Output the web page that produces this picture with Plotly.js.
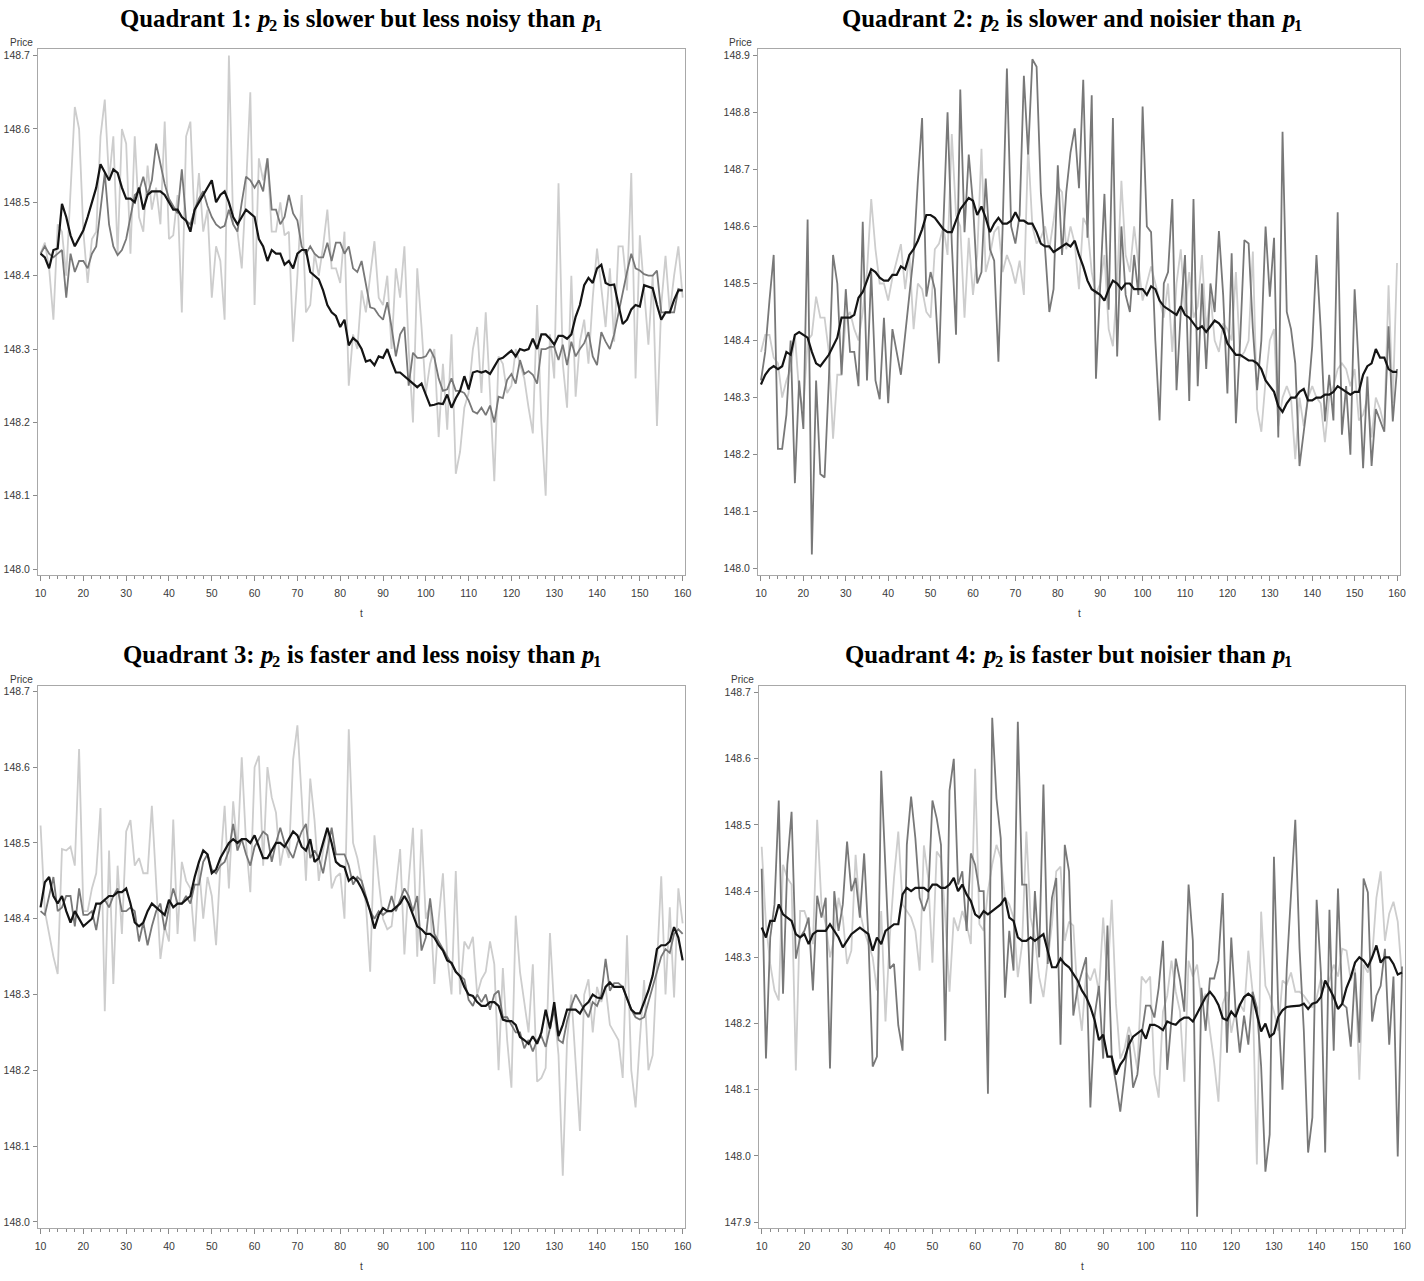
<!DOCTYPE html>
<html>
<head>
<meta charset="utf-8">
<script src="https://cdn.plot.ly/plotly-3.0.1.min.js"></script>
<style>
html,body{margin:0;padding:0;background:#ffffff;}
#chart{width:1424px;height:1281px;}
</style>
</head>
<body>
<div id="chart"></div>
<script>
// t axis (time index)
const t = [10,11,12,13,14,15,16,17,18,19,20,21,22,23,24,25,26,27,28,29,30,31,32,33,34,35,36,37,38,39,
40,41,42,43,44,45,46,47,48,49,50,51,52,53,54,55,56,57,58,59,60,61,62,63,64,65,66,67,68,69,
70,71,72,73,74,75,76,77,78,79,80,81,82,83,84,85,86,87,88,89,90,91,92,93,94,95,96,97,98,99,
100,101,102,103,104,105,106,107,108,109,110,111,112,113,114,115,116,117,118,119,
120,121,122,123,124,125,126,127,128,129,130,131,132,133,134,135,136,137,138,139,
140,141,142,143,144,145,146,147,148,149,150,151,152,153,154,155,156,157,158,159,160];

// Quadrant 1
const q1_m = [148.43,148.425,148.41,148.435,148.437,148.498,148.48,148.455,148.44,148.45,
148.462,148.48,148.5,148.52,148.552,148.54,148.53,148.545,148.54,148.52,
148.505,148.505,148.5,148.52,148.49,148.51,148.515,148.515,148.515,148.51,
148.5,148.49,148.49,148.48,148.475,148.46,148.49,148.5,148.51,148.52,
148.53,148.5,148.51,148.515,148.5,148.48,148.47,148.48,148.49,148.485,
148.48,148.45,148.44,148.42,148.435,148.43,148.43,148.415,148.42,148.41,
148.43,148.435,148.435,148.405,148.4,148.395,148.38,148.36,148.35,148.345,
148.33,148.34,148.305,148.315,148.31,148.3,148.283,148.285,148.278,148.29,
148.288,148.3,148.283,148.268,148.268,148.263,148.258,148.253,148.248,148.253,
148.238,148.223,148.224,148.226,148.225,148.238,148.22,148.233,148.243,148.263,
148.245,148.268,148.27,148.268,148.27,148.266,148.276,148.286,148.288,148.293,
148.298,148.29,148.3,148.298,148.3,148.314,148.3,148.32,148.32,148.314,
148.306,148.318,148.318,148.314,148.32,148.344,148.36,148.387,148.397,148.39,
148.41,148.415,148.39,148.387,148.388,148.36,148.334,148.34,148.354,148.36,
148.358,148.387,148.385,148.383,148.36,148.34,148.35,148.35,148.367,148.38,
148.38];
const q1_p2 = [148.43,148.44,148.43,148.425,148.43,148.435,148.37,148.43,148.405,148.42,
148.42,148.41,148.43,148.44,148.49,148.54,148.47,148.44,148.428,148.435,
148.45,148.48,148.51,148.515,148.535,148.51,148.53,148.58,148.55,148.525,
148.505,148.495,148.485,148.545,148.475,148.47,148.49,148.505,148.515,148.495,
148.48,148.47,148.465,148.468,148.49,148.47,148.46,148.5,148.535,148.53,
148.52,148.53,148.515,148.56,148.49,148.49,148.47,148.48,148.51,148.485,
148.475,148.44,148.43,148.44,148.43,148.425,148.425,148.445,148.42,148.445,
148.445,148.43,148.44,148.41,148.405,148.42,148.387,148.357,148.355,148.346,
148.34,148.364,148.33,148.29,148.32,148.33,148.25,148.295,148.288,148.288,
148.29,148.3,148.288,148.26,148.243,148.245,148.26,148.243,148.243,148.24,
148.23,148.215,148.212,148.22,148.21,148.223,148.2,148.235,148.233,148.258,
148.266,148.253,148.285,148.266,148.27,148.265,148.253,148.3,148.3,148.303,
148.303,148.285,148.306,148.278,148.31,148.29,148.3,148.308,148.323,148.29,
148.278,148.323,148.31,148.3,148.32,148.35,148.38,148.405,148.43,148.41,
148.407,148.402,148.4,148.4,148.407,148.35,148.35,148.35,148.35,148.382,
148.38];
const q1_p1 = [148.43,148.445,148.41,148.34,148.47,148.46,148.40,148.52,148.63,148.6,
148.46,148.39,148.45,148.46,148.59,148.64,148.53,148.59,148.43,148.6,
148.58,148.43,148.59,148.48,148.46,148.55,148.49,148.52,148.47,148.61,
148.45,148.455,148.51,148.35,148.59,148.61,148.47,148.54,148.46,148.49,
148.37,148.44,148.42,148.34,148.7,148.47,148.46,148.41,148.52,148.65,
148.36,148.56,148.53,148.56,148.46,148.46,148.5,148.455,148.46,148.31,
148.4,148.51,148.35,148.36,148.43,148.4,148.44,148.49,148.41,148.41,
148.39,148.46,148.25,148.32,148.3,148.38,148.35,148.4,148.447,148.37,
148.36,148.4,148.3,148.41,148.37,148.44,148.3,148.2,148.41,148.33,
148.24,148.28,148.3,148.18,148.28,148.19,148.32,148.13,148.16,148.22,
148.24,148.3,148.33,148.24,148.35,148.24,148.12,148.29,148.28,148.24,
148.25,148.3,148.28,148.26,148.22,148.185,148.36,148.2,148.1,148.32,
148.26,148.526,148.28,148.22,148.4,148.235,148.31,148.34,148.28,148.37,
148.437,148.38,148.33,148.41,148.31,148.44,148.44,148.38,148.54,148.26,
148.455,148.38,148.306,148.4,148.195,148.36,148.427,148.35,148.4,148.44,
148.37];

// Quadrant 2
const q2_m = [148.323,148.34,148.35,148.355,148.35,148.355,148.38,148.375,148.41,148.415,
148.41,148.405,148.38,148.36,148.355,148.365,148.375,148.39,148.405,148.44,
148.44,148.44,148.445,148.475,148.485,148.505,148.525,148.52,148.51,148.505,
148.505,148.515,148.515,148.53,148.525,148.55,148.56,148.575,148.595,148.62,
148.62,148.615,148.605,148.595,148.59,148.59,148.61,148.63,148.64,148.65,
148.645,148.62,148.635,148.615,148.59,148.605,148.615,148.605,148.605,148.61,
148.625,148.61,148.61,148.605,148.605,148.59,148.57,148.565,148.565,148.555,
148.56,148.565,148.57,148.565,148.575,148.55,148.53,148.505,148.49,148.485,
148.48,148.47,148.49,148.505,148.5,148.49,148.5,148.5,148.49,148.49,
148.49,148.48,148.495,148.49,148.47,148.46,148.455,148.45,148.445,148.46,
148.445,148.44,148.43,148.42,148.425,148.415,148.425,148.435,148.43,148.42,
148.395,148.385,148.375,148.375,148.37,148.365,148.365,148.36,148.35,148.33,
148.32,148.31,148.285,148.275,148.29,148.3,148.3,148.31,148.315,148.295,
148.295,148.3,148.3,148.305,148.305,148.31,148.32,148.315,148.31,148.305,
148.31,148.31,148.34,148.355,148.36,148.385,148.37,148.37,148.35,148.345,
148.345];
const q2_p2 = [148.33,148.38,148.47,148.55,148.21,148.21,148.27,148.4,148.15,148.33,
148.245,148.612,148.025,148.33,148.166,148.16,148.33,148.55,148.5,148.34,
148.49,148.38,148.38,148.32,148.608,148.33,148.52,148.33,148.297,148.44,
148.29,148.42,148.38,148.34,148.41,148.48,148.55,148.68,148.79,148.477,
148.52,148.49,148.36,148.6,148.8,148.57,148.41,148.84,148.59,148.726,
148.64,148.5,148.52,148.684,148.56,148.54,148.363,148.6,148.877,148.6,
148.57,148.62,148.864,148.726,148.893,148.88,148.66,148.56,148.45,148.49,
148.707,148.55,148.66,148.73,148.772,148.667,148.857,148.58,148.83,148.333,
148.5,148.657,148.454,148.79,148.372,148.6,148.48,148.45,148.55,148.48,
148.81,148.6,148.59,148.4,148.26,148.5,148.52,148.648,148.313,148.45,
148.55,148.294,148.648,148.32,148.5,148.35,148.5,148.45,148.592,148.48,
148.307,148.553,148.255,148.4,148.576,148.57,148.42,148.313,148.4,148.6,
148.477,148.58,148.23,148.766,148.45,148.42,148.36,148.18,148.24,148.3,
148.39,148.55,148.42,148.258,148.34,148.26,148.625,148.235,148.32,148.2,
148.49,148.35,148.176,148.337,148.18,148.28,148.26,148.24,148.425,148.258,
148.35];
const q2_p1 = [148.38,148.41,148.41,148.37,148.36,148.3,148.33,148.35,148.41,148.31,
148.28,148.4,148.41,148.477,148.44,148.44,148.38,148.228,148.34,148.34,
148.44,148.45,148.42,148.4,148.45,148.52,148.648,148.56,148.5,148.5,
148.47,148.51,148.54,148.569,148.49,148.55,148.42,148.5,148.49,148.45,
148.44,148.56,148.57,148.6,148.55,148.762,148.62,148.6,148.44,148.58,
148.48,148.55,148.736,148.52,148.55,148.59,148.6,148.52,148.55,148.53,
148.5,148.54,148.48,148.74,148.6,148.57,148.58,148.6,148.56,148.61,
148.67,148.66,148.56,148.6,148.57,148.49,148.615,148.6,148.52,148.48,
148.5,148.55,148.42,148.39,148.5,148.68,148.55,148.52,148.6,148.53,
148.47,148.5,148.53,148.5,148.47,148.44,148.5,148.38,148.5,148.56,
148.45,148.52,148.44,148.46,148.55,148.42,148.48,148.4,148.38,148.43,
148.42,148.4,148.52,148.37,148.38,148.4,148.556,148.28,148.24,148.33,
148.4,148.42,148.25,148.3,148.32,148.3,148.192,148.3,148.25,148.3,
148.32,148.3,148.29,148.222,148.3,148.32,148.35,148.36,148.35,148.32,
148.35,148.26,148.27,148.3,148.23,148.3,148.28,148.25,148.497,148.29,
148.536];

// Quadrant 3
const q3_m = [148.415,148.448,148.455,148.43,148.42,148.43,148.41,148.395,148.41,148.4,
148.39,148.395,148.4,148.42,148.42,148.425,148.43,148.43,148.435,148.435,
148.44,148.42,148.395,148.39,148.395,148.41,148.42,148.415,148.41,148.405,
148.425,148.415,148.42,148.42,148.425,148.43,148.455,148.475,148.49,148.485,
148.46,148.465,148.48,148.49,148.5,148.505,148.5,148.505,148.505,148.5,
148.51,148.495,148.48,148.48,148.49,148.5,148.5,148.495,148.505,148.515,
148.51,148.495,148.49,148.505,148.475,148.48,148.5,148.52,148.5,148.475,
148.47,148.468,148.45,148.455,148.45,148.44,148.427,148.41,148.387,148.405,
148.414,148.41,148.41,148.415,148.42,148.43,148.42,148.405,148.39,148.386,
148.38,148.38,148.375,148.365,148.358,148.345,148.342,148.33,148.324,148.31,
148.3,148.298,148.29,148.285,148.285,148.29,148.29,148.285,148.267,148.265,
148.265,148.26,148.244,148.24,148.235,148.245,148.235,148.25,148.28,148.255,
148.29,148.245,148.26,148.28,148.28,148.28,148.275,148.285,148.29,148.3,
148.296,148.295,148.31,148.316,148.31,148.31,148.31,148.295,148.28,148.275,
148.275,148.29,148.305,148.325,148.36,148.365,148.365,148.37,148.389,148.375,
148.345];
const q3_p2 = [148.41,148.405,148.43,148.455,148.41,148.415,148.43,148.43,148.39,148.44,
148.405,148.405,148.41,148.385,148.42,148.425,148.415,148.43,148.44,148.41,
148.41,148.415,148.41,148.37,148.395,148.365,148.39,148.41,148.42,148.385,
148.415,148.44,148.42,148.42,148.43,148.42,148.445,148.445,148.475,148.485,
148.465,148.46,148.47,148.475,148.49,148.525,148.49,148.505,148.485,148.47,
148.495,148.505,148.515,148.51,148.475,148.5,148.52,148.5,148.49,148.48,
148.5,148.515,148.525,148.48,148.49,148.48,148.46,148.49,148.52,148.485,
148.485,148.485,148.47,148.445,148.455,148.45,148.43,148.41,148.4,148.41,
148.405,148.41,148.43,148.41,148.425,148.44,148.43,148.41,148.43,148.358,
148.375,148.427,148.38,148.37,148.36,148.35,148.34,148.33,148.325,148.32,
148.293,148.285,148.3,148.29,148.3,148.28,148.3,148.305,148.27,148.27,
148.26,148.25,148.25,148.229,148.24,148.225,148.24,148.245,148.231,148.255,
148.28,148.24,148.236,148.265,148.285,148.3,148.29,148.28,148.27,148.29,
148.285,148.3,148.347,148.305,148.315,148.315,148.31,148.295,148.28,148.27,
148.267,148.27,148.29,148.31,148.33,148.35,148.36,148.355,148.38,148.386,
148.38];
const q3_p1 = [148.523,148.41,148.38,148.35,148.327,148.492,148.49,148.495,148.47,148.624,
148.41,148.41,148.44,148.46,148.546,148.278,148.49,148.314,148.47,148.38,
148.515,148.53,148.47,148.48,148.46,148.46,148.549,148.44,148.347,148.39,
148.37,148.531,148.38,148.475,148.45,148.44,148.37,148.47,148.4,148.455,
148.43,148.365,148.47,148.549,148.44,148.555,148.49,148.613,148.5,148.435,
148.6,148.615,148.47,148.6,148.56,148.54,148.47,148.5,148.48,148.61,
148.655,148.56,148.45,148.585,148.53,148.45,148.49,148.52,148.44,148.455,
148.46,148.4,148.65,148.5,148.48,148.45,148.42,148.33,148.51,148.45,
148.4,148.386,148.39,148.44,148.492,148.353,148.45,148.52,148.35,148.518,
148.4,148.42,148.314,148.4,148.46,148.35,148.3,148.463,148.3,148.37,
148.36,148.376,148.3,148.32,148.33,148.37,148.34,148.2,148.335,148.24,
148.177,148.404,148.33,148.29,148.25,148.34,148.185,148.19,148.203,148.381,
148.28,148.22,148.061,148.24,148.3,148.21,148.12,148.3,148.32,148.25,
148.31,148.29,148.31,148.26,148.249,148.24,148.19,148.378,148.2,148.151,
148.24,148.319,148.2,148.22,148.34,148.456,148.3,148.415,148.296,148.44,
148.394];

// Quadrant 4
const q4_m = [148.345,148.33,148.355,148.355,148.38,148.365,148.36,148.355,148.335,148.33,
148.335,148.32,148.335,148.34,148.34,148.34,148.35,148.34,148.33,148.315,
148.325,148.335,148.34,148.345,148.34,148.335,148.31,148.33,148.32,148.34,
148.345,148.35,148.35,148.395,148.405,148.4,148.405,148.405,148.405,148.4,
148.41,148.41,148.405,148.405,148.41,148.42,148.4,148.41,148.395,148.385,
148.365,148.36,148.37,148.365,148.37,148.375,148.38,148.39,148.36,148.355,
148.33,148.325,148.325,148.33,148.325,148.33,148.335,148.31,148.285,148.285,
148.298,148.29,148.285,148.275,148.265,148.25,148.24,148.225,148.205,148.175,
148.183,148.15,148.15,148.123,148.138,148.147,148.168,148.18,148.185,148.19,
148.177,148.198,148.198,148.195,148.19,148.203,148.2,148.198,148.205,148.209,
148.209,148.203,148.215,148.228,148.24,148.248,148.24,148.228,148.208,148.205,
148.218,148.21,148.228,148.24,148.245,148.24,148.215,148.188,148.2,148.18,
148.185,148.21,148.22,148.225,148.226,148.226,148.227,148.23,148.222,148.23,
148.232,148.24,148.265,148.253,148.24,148.222,148.23,148.254,148.27,148.292,
148.3,148.295,148.286,148.3,148.318,148.292,148.3,148.3,148.29,148.274,
148.277];
const q4_p2 = [148.434,148.147,148.33,148.38,148.537,148.245,148.44,148.52,148.298,148.33,
148.34,148.36,148.25,148.393,148.36,148.39,148.132,148.4,148.34,148.38,
148.475,148.4,148.42,148.36,148.457,148.33,148.135,148.15,148.582,148.42,
148.283,148.29,148.197,148.159,148.47,148.543,148.48,148.39,148.37,148.39,
148.537,148.51,148.47,148.174,148.552,148.6,148.41,148.43,148.34,148.457,
148.44,148.4,148.4,148.094,148.662,148.54,148.48,148.239,148.34,148.28,
148.656,148.41,148.41,148.23,148.4,148.3,148.561,148.29,148.39,148.42,
148.168,148.47,148.43,148.212,148.254,148.277,148.3,148.073,148.212,148.257,
148.147,148.348,148.147,148.11,148.067,148.123,148.183,148.103,148.123,148.183,
148.227,148.227,148.209,148.254,148.325,148.13,148.207,148.298,148.265,148.218,
148.41,148.325,147.908,148.254,148.189,148.268,148.268,148.295,148.397,148.156,
148.33,148.221,148.156,148.212,148.168,148.248,148.224,148.135,147.976,148.032,
148.452,148.224,148.1,148.283,148.4,148.508,148.313,148.189,148.005,148.058,
148.387,148.277,148.005,148.372,148.159,148.404,148.23,148.224,148.165,148.277,
148.171,148.419,148.398,148.203,148.242,148.257,148.313,148.168,148.271,147.999,
148.286];
const q4_p1 = [148.467,148.35,148.29,148.25,148.235,148.44,148.42,148.41,148.129,148.37,
148.37,148.35,148.32,148.508,148.38,148.35,148.3,148.33,148.39,148.36,
148.29,148.31,148.455,148.37,148.34,148.32,148.3,148.25,148.37,148.203,
148.33,148.42,148.49,148.38,148.37,148.36,148.34,148.28,148.469,148.42,
148.292,148.46,148.45,148.36,148.248,148.36,148.34,148.37,148.35,148.32,
148.585,148.35,148.34,148.4,148.44,148.47,148.45,148.39,148.38,148.36,
148.27,148.32,148.49,148.36,148.33,148.27,148.24,148.3,148.35,148.43,
148.437,148.325,148.354,148.348,148.242,148.189,148.277,148.265,148.283,148.248,
148.36,148.265,148.387,148.23,148.147,148.162,148.195,148.171,148.13,148.271,
148.262,148.271,148.123,148.088,148.218,148.242,148.295,148.248,148.218,148.112,
148.295,148.271,148.289,148.233,148.245,148.189,148.141,148.082,148.23,148.248,
148.186,148.218,148.23,148.218,148.31,148.248,147.987,148.369,148.257,148.242,
148.218,148.189,148.265,148.259,148.277,148.248,148.248,148.242,148.233,148.224,
148.239,148.268,148.254,148.265,148.289,148.271,148.313,148.31,148.265,148.283,
148.115,148.289,148.277,148.3,148.39,148.43,148.325,148.366,148.384,148.354,
148.27];

// Panel titles, split into runs: [text, kind]  (n = normal, i = italic, s = subscript)
const titleRuns = [
  [['Quadrant 1:', 'n'], ['p', 'i'], ['2', 's'], ['is slower but less noisy than', 'n'], ['p', 'i'], ['1', 's']],
  [['Quadrant 2:', 'n'], ['p', 'i'], ['2', 's'], ['is slower and noisier than', 'n'], ['p', 'i'], ['1', 's']],
  [['Quadrant 3:', 'n'], ['p', 'i'], ['2', 's'], ['is faster and less noisy than', 'n'], ['p', 'i'], ['1', 's']],
  [['Quadrant 4:', 'n'], ['p', 'i'], ['2', 's'], ['is faster but noisier than', 'n'], ['p', 'i'], ['1', 's']]
];

// ---- layout helpers (pixel geometry) ----
const W = 1424, H = 1281;
const fx = p => p / W;
const fy = p => 1 - p / H;

const panels = [
  {m: q1_m, p2: q1_p2, p1: q1_p1, box: [38, 49, 685, 575],   xr: [9.4, 160.55], yr: [147.992, 148.709], tx: 361, ty: 18},
  {m: q2_m, p2: q2_p2, p1: q2_p1, box: [758, 49, 1400, 575], xr: [9.3, 160.7],  yr: [147.989, 148.911], tx: 1072, ty: 18},
  {m: q3_m, p2: q3_p2, p1: q3_p1, box: [38, 686, 685, 1228], xr: [9.4, 160.55], yr: [147.992, 148.707], tx: 362, ty: 654},
  {m: q4_m, p2: q4_p2, p1: q4_p1, box: [759, 686, 1405, 1228], xr: [9.37, 160.7], yr: [147.891, 148.71], tx: 1069, ty: 654}
];

const SERIF = 'Liberation Serif, Times New Roman, serif';
const SANS = 'Liberation Sans, Arial, sans-serif';
const TS = 24.8;           // title font size
const SUBS = 16.5;         // subscript font size
const tickFont = {family: SANS, size: 10.5, color: '#3a3a3a'};

const ctx = document.createElement('canvas').getContext('2d');
function textWidth(txt, size, italic) {
  ctx.font = (italic ? 'italic ' : '') + 'bold ' + size + 'px "Liberation Serif"';
  return ctx.measureText(txt).width;
}

const data = [];
const layout = {
  width: W, height: H,
  margin: {l: 0, r: 0, t: 0, b: 0, pad: 0},
  paper_bgcolor: '#ffffff', plot_bgcolor: '#ffffff',
  showlegend: false,
  annotations: []
};

panels.forEach((p, i) => {
  const n = i === 0 ? '' : String(i + 1);
  const xa = 'x' + n, ya = 'y' + n;
  const common = {x: t, type: 'scatter', mode: 'lines', xaxis: xa, yaxis: ya, hoverinfo: 'skip'};
  data.push(Object.assign({}, common, {y: p.p1, line: {color: '#cdcdcd', width: 1.8}}));
  data.push(Object.assign({}, common, {y: p.p2, line: {color: '#787878', width: 1.8}}));
  data.push(Object.assign({}, common, {y: p.m,  line: {color: '#141414', width: 2.2}}));

  const [x0, y0, x1, y1] = p.box;
  layout['xaxis' + n] = {
    domain: [fx(x0), fx(x1)], range: p.xr, anchor: ya,
    showline: true, mirror: true, linecolor: '#a8a8a8', linewidth: 1,
    showgrid: false, zeroline: false,
    ticks: 'outside', ticklen: 5, tickwidth: 1, tickcolor: '#8a8a8a',
    tick0: 10, dtick: 10, tickfont: tickFont, ticklabelstandoff: 3,
    minor: {tick0: 10, dtick: 2, ticks: 'outside', ticklen: 3, tickwidth: 1, tickcolor: '#8a8a8a', showgrid: false}
  };
  layout['yaxis' + n] = {
    domain: [fy(y1), fy(y0)], range: p.yr, anchor: xa,
    showline: true, mirror: true, linecolor: '#a8a8a8', linewidth: 1,
    showgrid: false, zeroline: false,
    ticks: 'outside', ticklen: 4, tickwidth: 1, tickcolor: '#8a8a8a',
    tick0: 148.0, dtick: 0.1, tickformat: '.1f', tickfont: tickFont, ticklabelstandoff: 1
  };

  // panel title built from measured runs
  const runs = titleRuns[i];
  const space = textWidth(' ', TS, false);
  const pieces = [];
  let total = 0;
  runs.forEach((r, k) => {
    const italic = r[1] === 'i';
    const size = r[1] === 's' ? SUBS : TS;
    const w = textWidth(r[0], size, italic);
    // a word space precedes every run except subscripts
    let gap = 0;
    if (k > 0 && r[1] !== 's') gap = italic ? space - 1.5 : space;
    total += gap;
    pieces.push({text: r[0], kind: r[1], x: total, size: size, italic: italic});
    total += w + (italic ? 0.5 : 0);
  });
  const start = p.tx - total / 2;
  pieces.forEach(pc => {
    const yc = pc.kind === 's' ? p.ty + 7.5 : p.ty;
    layout.annotations.push({
      xref: 'paper', yref: 'paper', x: fx(start + pc.x), y: fy(yc),
      xanchor: 'left', yanchor: 'middle', showarrow: false,
      borderpad: 0, borderwidth: 0,
      text: pc.text,
      font: {family: SERIF, size: pc.size, color: '#000000', weight: 'bold', style: pc.italic ? 'italic' : 'normal'}
    });
  });

  // y-axis label "Price"
  layout.annotations.push({
    xref: 'paper', yref: 'paper', x: fx(x0 - 17), y: fy(y0 - 7),
    xanchor: 'center', yanchor: 'middle', showarrow: false,
    text: 'Price',
    font: {family: SANS, size: 10, color: '#3a3a3a'}
  });
  // x-axis label "t"
  layout.annotations.push({
    xref: 'paper', yref: 'paper', x: fx((x0 + x1) / 2), y: fy(y1 + 38),
    xanchor: 'center', yanchor: 'middle', showarrow: false,
    text: 't',
    font: {family: SANS, size: 10, color: '#3a3a3a'}
  });
});

Plotly.newPlot('chart', data, layout, {staticPlot: true, displayModeBar: false});
</script>
</body>
</html>
